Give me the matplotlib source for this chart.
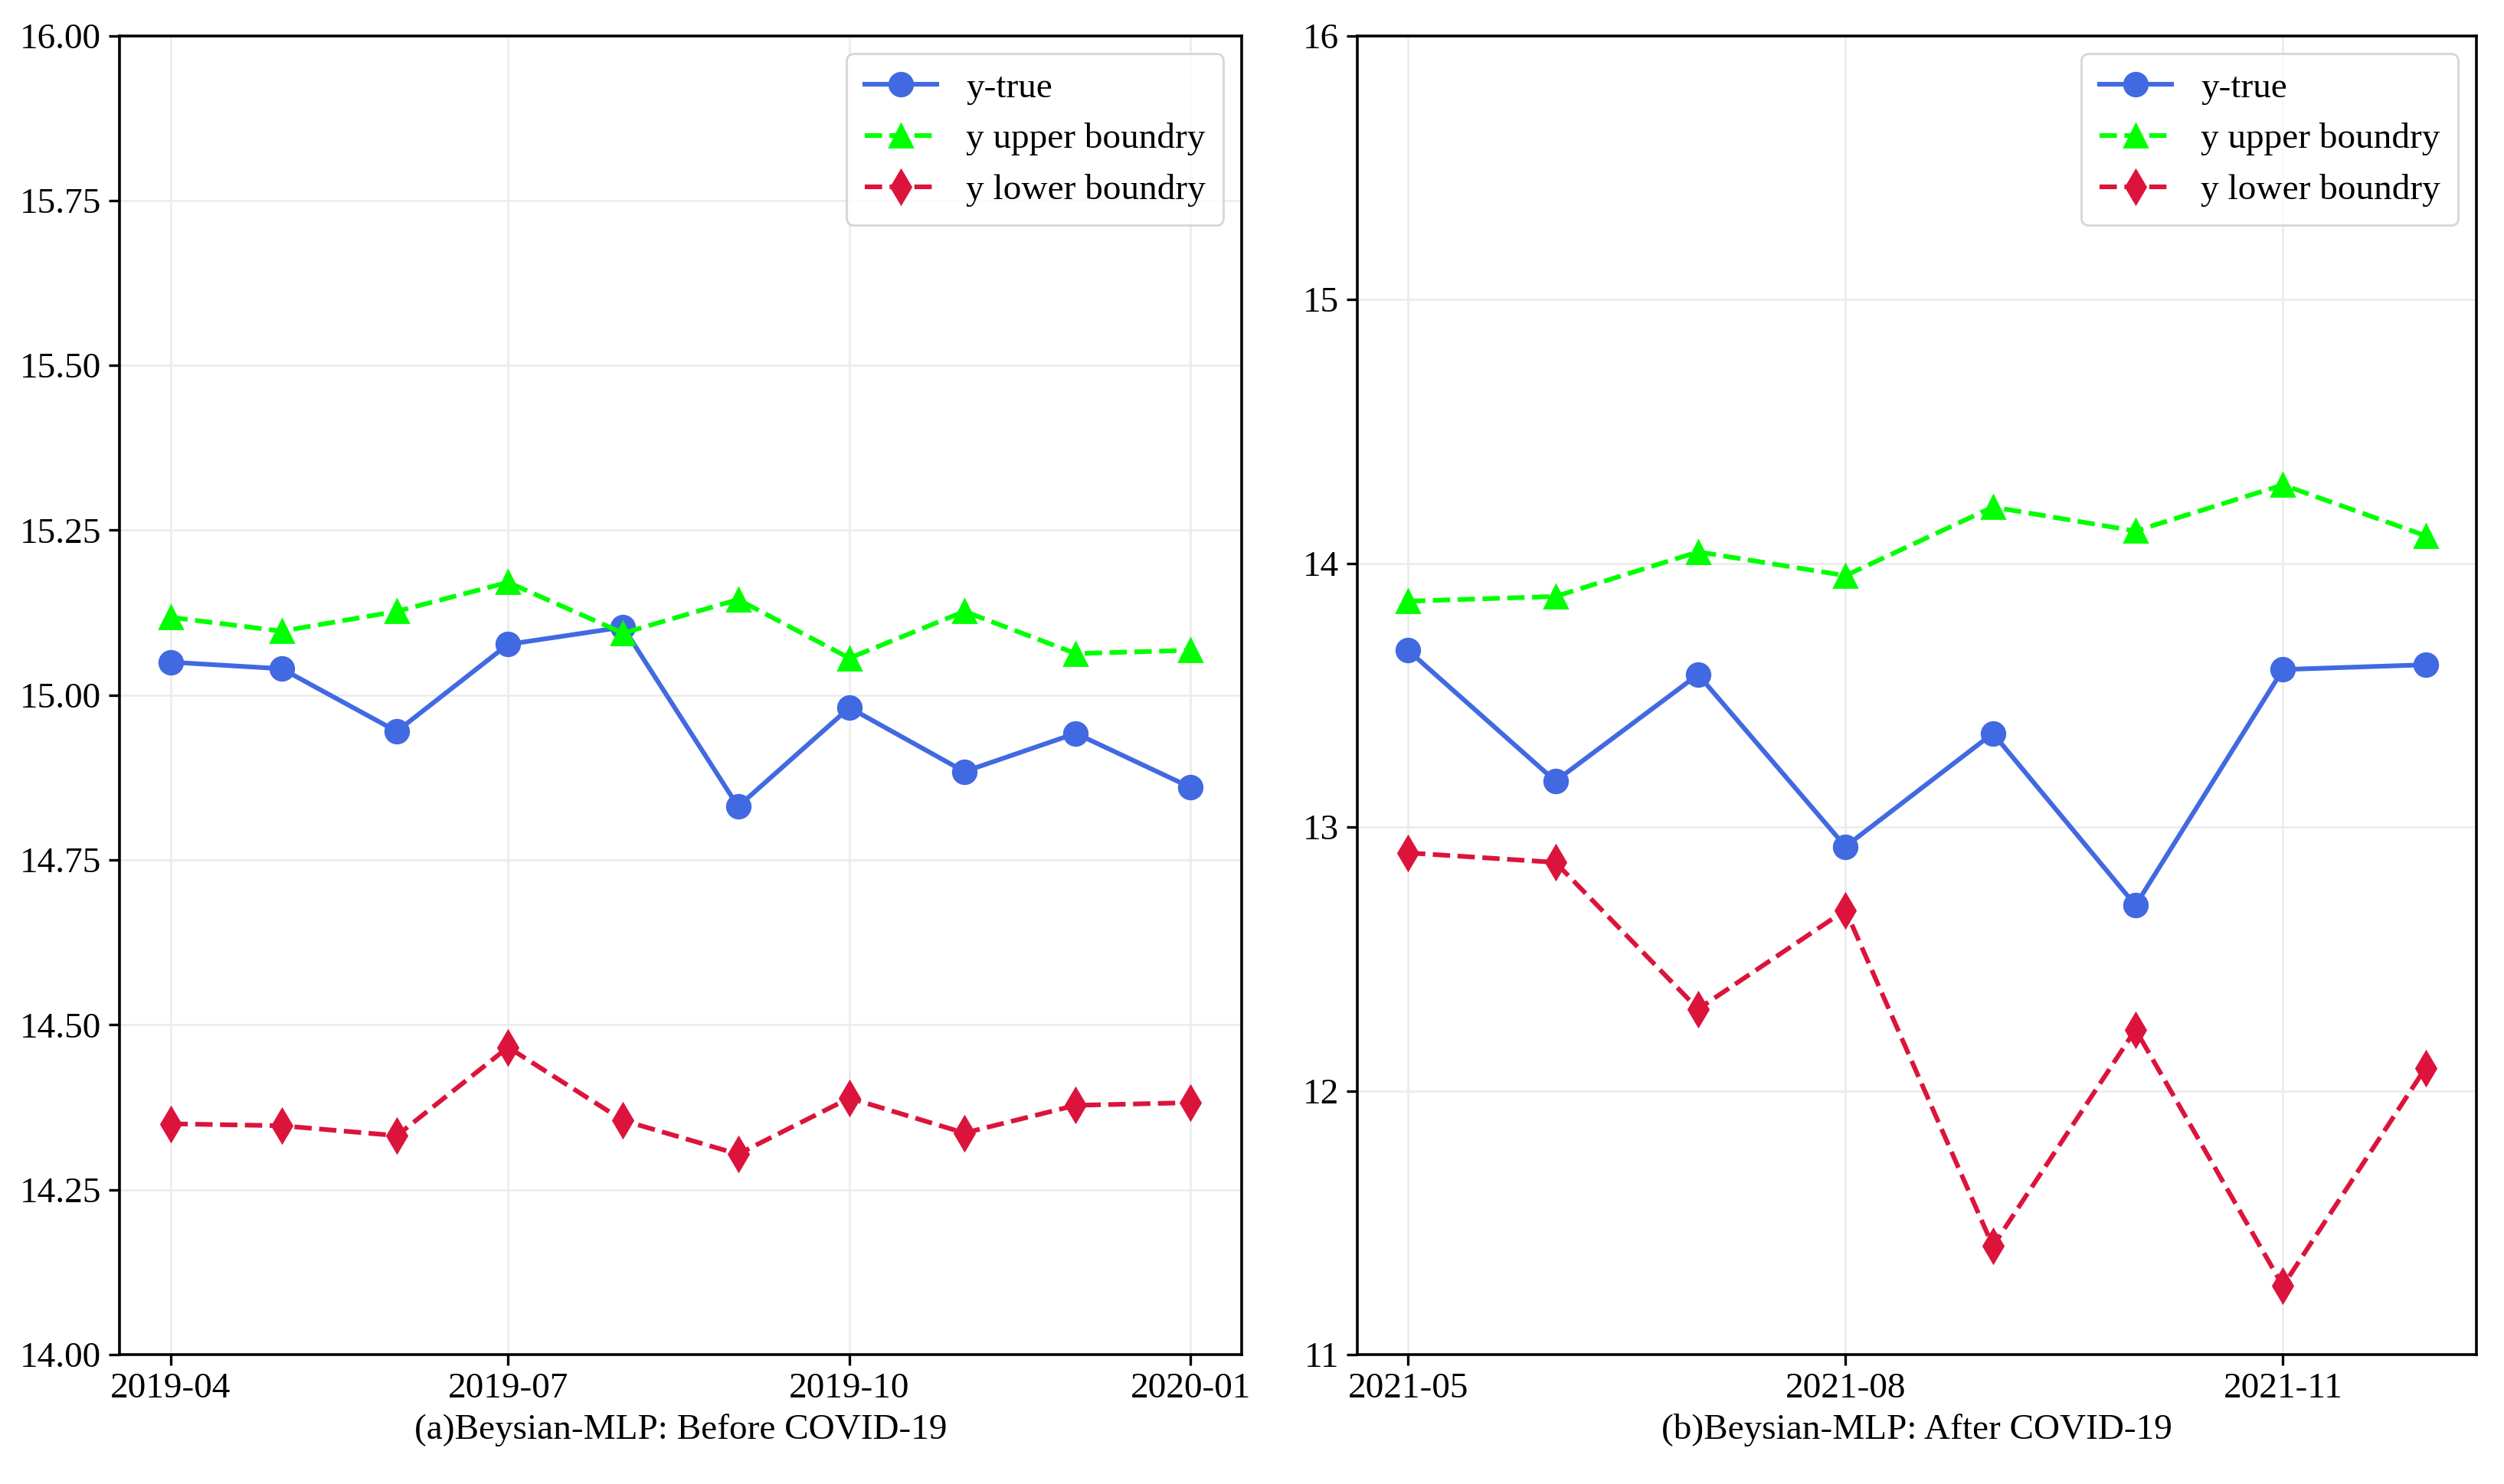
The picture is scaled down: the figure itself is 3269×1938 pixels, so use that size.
import matplotlib
matplotlib.use("Agg")
import matplotlib.pyplot as plt
import matplotlib.dates as mdates
import pandas as pd

plt.rcParams['font.family'] = ['Liberation Serif', 'DejaVu Serif']
plt.rcParams['font.size'] = 17

# (a) before COVID-19
meses_a = ["2019-04", "2019-05", "2019-06", "2019-07", "2019-08",
           "2019-09", "2019-10", "2019-11", "2019-12", "2020-01"]
ytrue_a = [15.050, 15.040, 14.945, 15.077, 15.103, 14.831, 14.981, 14.884, 14.942, 14.860]
upper_a = [15.118, 15.097, 15.127, 15.171, 15.094, 15.145, 15.056, 15.127, 15.063, 15.068]
lower_a = [14.350, 14.347, 14.332, 14.466, 14.355, 14.304, 14.389, 14.336, 14.378, 14.382]

# (b) after COVID-19
meses_b = ["2021-05", "2021-06", "2021-07", "2021-08",
           "2021-09", "2021-10", "2021-11", "2021-12"]
ytrue_b = [13.670, 13.174, 13.578, 12.926, 13.355, 12.703, 13.597, 13.615]
upper_b = [13.856, 13.874, 14.043, 13.953, 14.213, 14.122, 14.297, 14.104]
lower_b = [12.902, 12.866, 12.310, 12.685, 11.411, 12.232, 11.260, 12.087]

titulos = ["(a)Beysian-MLP: Before COVID-19", "(b)Beysian-MLP: After COVID-19"]


def graficar(ax, meses, ytrue, upper, lower, titulo, ylim, yticks, fmt):
    fechas = pd.to_datetime(meses)
    ax.plot(fechas, ytrue, color='royalblue', marker='o', linestyle='-',
            linewidth=2.2, markersize=11, label='y-true')
    ax.plot(fechas, upper, color='lime', marker='^', linestyle='--',
            linewidth=2.2, markersize=11, label='y upper boundry')
    ax.plot(fechas, lower, color='crimson', marker='d', linestyle='--',
            linewidth=2.2, markersize=11, label='y lower boundry')
    ax.set_ylim(*ylim)
    ax.set_yticks(yticks)
    ax.set_yticklabels([fmt.format(v) for v in yticks])
    ax.xaxis.set_major_locator(mdates.MonthLocator(bymonth=[1, 4, 7, 10] if fechas[0].month == 4 else [2, 5, 8, 11]))
    ax.xaxis.set_major_formatter(mdates.DateFormatter('%Y-%m'))
    ax.grid(True, color='#ececec', linewidth=1)
    ax.set_xlabel(titulo, labelpad=4)
    for s in ax.spines.values():
        s.set_linewidth(1.3)
    ax.tick_params(width=1.2, length=5)
    ax.legend(loc='upper right', fontsize=17, borderpad=0.5)


fig = plt.figure(figsize=(16.345, 9.69), dpi=200)
ax1 = fig.add_axes([0.0477, 0.0872, 0.4482, 0.8888])
ax2 = fig.add_axes([0.542, 0.0872, 0.447, 0.8888])

graficar(ax1, meses_a, ytrue_a, upper_a, lower_a, titulos[0],
         (14.0, 16.0), [14.0, 14.25, 14.5, 14.75, 15.0, 15.25, 15.5, 15.75, 16.0], "{:.2f}")
graficar(ax2, meses_b, ytrue_b, upper_b, lower_b, titulos[1],
         (11, 16), [11, 12, 13, 14, 15, 16], "{:.0f}")

fig.savefig("out.png", dpi=200)
